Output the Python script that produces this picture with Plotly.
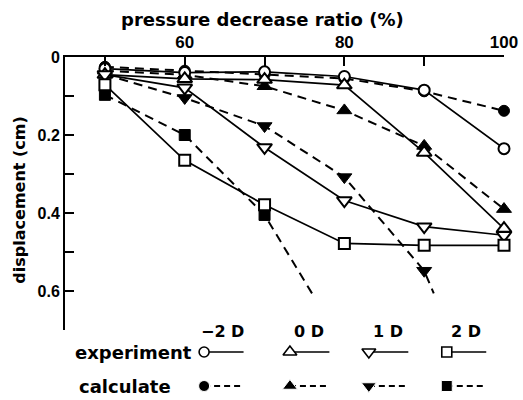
import plotly.graph_objects as go

# ---------------- data ----------------
ratio = [50, 60, 70, 80, 90, 100]

exp_m2D = [0.030, 0.040, 0.038, 0.050, 0.085, 0.235]
calc_m2D = [0.025, 0.035, 0.045, 0.055, 0.088, 0.138]
exp_0D = [0.045, 0.056, 0.058, 0.072, 0.245, 0.440]
calc_0D = [0.035, 0.046, 0.075, 0.137, 0.228, 0.390]
exp_1D = [0.045, 0.079, 0.232, 0.368, 0.435, 0.457]
calc_1D_x = [50, 60, 70, 80, 90, 91.2]
calc_1D = [0.045, 0.105, 0.177, 0.308, 0.548, 0.606]
exp_2D = [0.071, 0.265, 0.379, 0.478, 0.483, 0.483]
calc_2D_x = [50, 60, 70, 76.3]
calc_2D = [0.097, 0.200, 0.405, 0.618]

series_names = ["\u22122 D", "0 D", "1 D", "2 D"]
x_tickvals = [50, 60, 70, 80, 90, 100]
x_ticktext = ["", "60", "", "80", "", "100"]
y_tickvals = [0, 0.1, 0.2, 0.3, 0.4, 0.5, 0.6, 0.7]
y_ticktext = ["0", "", "0.2", "", "0.4", "", "0.6", ""]

# ---------------- style ----------------
BOLD = "DejaVu Sans"
SYMS = ["circle", "triangle-up", "triangle-down", "square"]
SIZES = [11, 13, 13, 11]
DASH = "9px,6px"

TOP, BOT, LEFT, RIGHT = 57, 5, 65, 13
H, W = 400, 523
main_bottom = (H - BOT - 330) / (H - TOP - BOT)


def px_x(p):
    return (p - LEFT) / (W - LEFT - RIGHT)


def px_y(p):
    return (H - BOT - p) / (H - TOP - BOT)


fig = go.Figure()

exp_sets = [(ratio, exp_m2D), (ratio, exp_0D), (ratio, exp_1D), (ratio, exp_2D)]
calc_sets = [(ratio, calc_m2D), (ratio, calc_0D), (calc_1D_x, calc_1D), (calc_2D_x, calc_2D)]

for i, (xs, ys) in enumerate(calc_sets):
    sizes = [SIZES[i] if x in ratio else 0 for x in xs]
    fig.add_trace(go.Scatter(
        x=xs, y=ys, mode="lines+markers", cliponaxis=False,
        line=dict(color="black", width=2, dash=DASH),
        marker=dict(symbol=SYMS[i], size=sizes, color="black", opacity=1,
                    line=dict(color="black", width=1)),
        showlegend=False))

for i, (xs, ys) in enumerate(exp_sets):
    fig.add_trace(go.Scatter(
        x=xs, y=ys, mode="lines+markers", cliponaxis=False,
        line=dict(color="black", width=1.7),
        marker=dict(symbol=SYMS[i], size=SIZES[i], color="white", opacity=1,
                    line=dict(color="black", width=2)),
        showlegend=False))

# ---------------- legend (drawn in a pixel-scaled helper axis) ----------------
leg_x = [206, 293, 373, 452]
row_exp, row_calc, row_head = 352, 386, 331
for i in range(4):
    X = leg_x[i]
    fig.add_trace(go.Scatter(
        x=[X, X + 40], y=[row_exp, row_exp], xaxis="x2", yaxis="y2",
        mode="lines+markers", cliponaxis=False,
        line=dict(color="black", width=1.7),
        marker=dict(symbol=SYMS[i], size=[SIZES[i] - 1, 0], color="white", opacity=1,
                    line=dict(color="black", width=1.6)),
        showlegend=False))
    fig.add_trace(go.Scatter(
        x=[X, X + 40], y=[row_calc, row_calc], xaxis="x2", yaxis="y2",
        mode="lines+markers", cliponaxis=False,
        line=dict(color="black", width=2, dash="6px,4px"),
        marker=dict(symbol=SYMS[i], size=[SIZES[i], 0], color="black", opacity=1),
        showlegend=False))
    fig.add_annotation(x=px_x(X + 19), y=px_y(row_head), xref="paper", yref="paper",
                       text=series_names[i], showarrow=False,
                       xanchor="center", yanchor="middle",
                       font=dict(family=BOLD, size=16, color="black", weight="bold"))

fig.add_annotation(x=px_x(196), y=px_y(row_exp), xref="paper", yref="paper", text="experiment",
                   xanchor="right", yanchor="middle", showarrow=False,
                   font=dict(family=BOLD, size=18, color="black", weight="bold"))
fig.add_annotation(x=px_x(77), y=px_y(row_calc), xref="paper", yref="paper", text="calculate",
                   xanchor="left", yanchor="middle", showarrow=False,
                   font=dict(family=BOLD, size=18, color="black", weight="bold"))

# axis titles
fig.add_annotation(x=px_x(265), y=px_y(19), xref="paper", yref="paper",
                   text="pressure decrease ratio (%)",
                   showarrow=False, xanchor="center", yanchor="middle",
                   font=dict(family=BOLD, size=18, color="black", weight="bold"))
fig.add_annotation(x=px_x(18), y=px_y(200), xref="paper", yref="paper",
                   text="displacement (cm)",
                   showarrow=False, textangle=-90, xanchor="center", yanchor="middle",
                   font=dict(family=BOLD, size=16, color="black", weight="bold"))

fig.update_layout(
    width=W, height=H,
    margin=dict(l=LEFT, r=RIGHT, t=TOP, b=BOT, pad=0),
    paper_bgcolor="white", plot_bgcolor="rgba(0,0,0,0)",
    xaxis=dict(domain=[0, 1], range=[45, 100], side="top", anchor="y",
               showline=True, linecolor="black", linewidth=2,
               ticks="inside", ticklen=9, tickwidth=2, tickcolor="black",
               tickvals=x_tickvals, ticktext=x_ticktext, ticklabeloverflow="allow",
               tickfont=dict(family="Liberation Sans", size=17, color="black", weight="bold"),
               showgrid=False, zeroline=False),
    yaxis=dict(domain=[main_bottom, 1], range=[0.7, 0], anchor="x",
               showline=True, linecolor="black", linewidth=2,
               ticks="inside", ticklen=9, tickwidth=2, tickcolor="black",
               tickvals=y_tickvals, ticktext=y_ticktext, ticklabeloverflow="allow",
               tickfont=dict(family="Liberation Sans", size=16, color="black", weight="bold"),
               showgrid=False, zeroline=False),
    xaxis2=dict(domain=[0, 1], range=[LEFT, W - RIGHT], anchor="y2",
                visible=False, fixedrange=True),
    yaxis2=dict(domain=[0, 1], range=[H - BOT, TOP], anchor="x2",
                visible=False, fixedrange=True),
)

fig.write_html("out.html", config={"displayModeBar": False},
               post_script="document.body.style.margin='0';document.body.style.padding='0';")
